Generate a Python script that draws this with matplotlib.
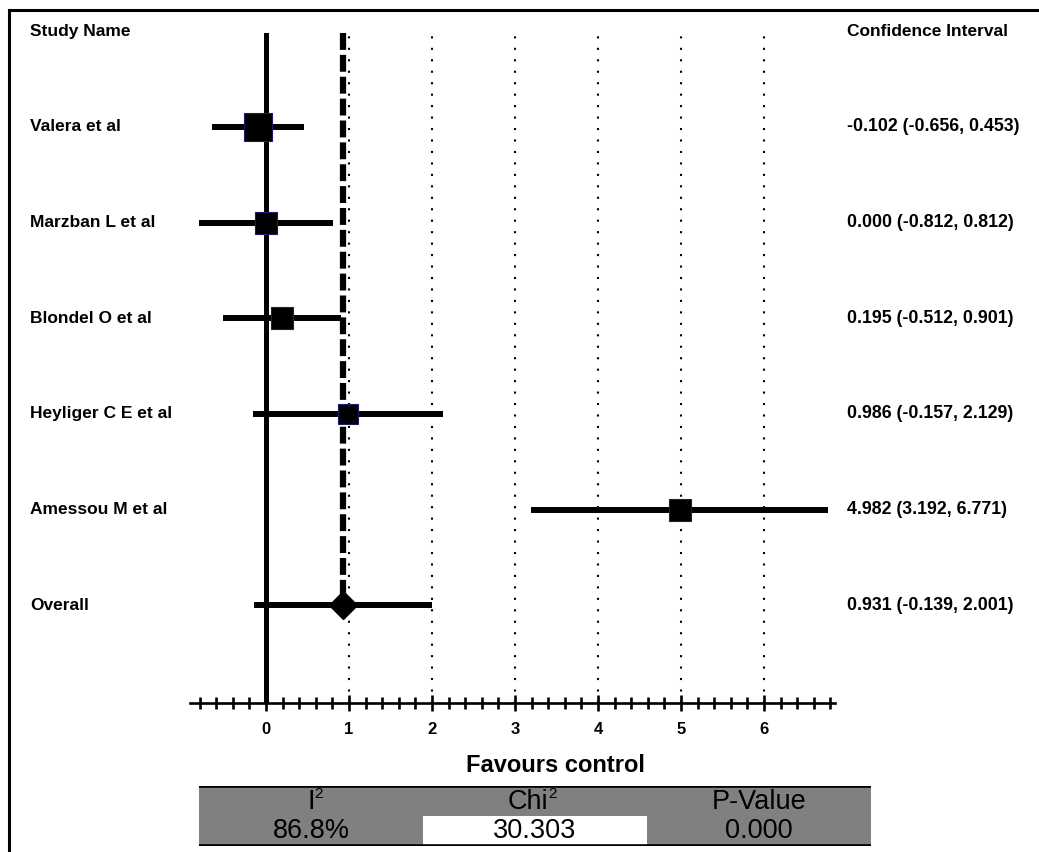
import numpy as np
import matplotlib
matplotlib.use("Agg")
import matplotlib.pyplot as plt
from matplotlib import transforms
from matplotlib.lines import Line2D
from matplotlib.patches import Rectangle
from matplotlib.ticker import FixedLocator

plt.rcParams['font.family'] = ['Liberation Sans', 'DejaVu Sans']

# study level results
studies = ["Valera et al", "Marzban L et al", "Blondel O et al",
           "Heyliger C E et al", "Amessou M et al"]
est = [-0.102, 0.000, 0.195, 0.986, 4.982]
lower = [-0.656, -0.812, -0.512, -0.157, 3.192]
upper = [0.453, 0.812, 0.901, 2.129, 6.771]
box_size = [20, 16, 16, 15, 15.5]

# pooled estimate
overall_est = 0.931
overall_lo = -0.139
overall_hi = 2.001

# heterogeneity stats
i2_text = "86.8%"
chi2 = 30.303
p_value = 0.000

W, H = 1039, 852
fig = plt.figure(figsize=(W / 100, H / 100), dpi=100)


def fx(x):
    return x / W


def fy(y):
    return 1 - y / H


# main forest axes
ax_l, ax_r, ax_t, ax_b = 189.6, 835.4, 33, 703
ax = fig.add_axes([fx(ax_l), fy(ax_b), fx(ax_r - ax_l), (ax_b - ax_t) / H])
ax.set_xlim(-0.92, 6.86)
ax.set_ylim(7.02, 0.02)
for s in ["top", "left", "right"]:
    ax.spines[s].set_visible(False)
ax.spines["bottom"].set_linewidth(1.9)
ax.set_yticks([])

ax.xaxis.set_major_locator(FixedLocator(range(0, 7)))
ax.xaxis.set_minor_locator(FixedLocator(np.round(np.arange(-0.8, 6.81, 0.2), 1)))
ax.tick_params(axis="x", which="major", direction="inout", length=12, width=1.9,
               pad=8, labelsize=12)
ax.tick_params(axis="x", which="minor", direction="inout", length=8, width=1.9)
for lab in ax.get_xticklabels():
    lab.set_fontweight("bold")

# dotted reference lines and the zero line
for xv in range(1, 7):
    ax.axvline(xv, color="black", lw=1.5, ls=(0, (1, 4.5)), zorder=1)
ax.axvline(0, color="black", lw=3.6, zorder=2)

rows = np.arange(1, len(studies) + 1)
overall_row = len(studies) + 1

# pooled estimate dashed line
ax.plot([overall_est, overall_est], [0.02, overall_row], color="black", lw=4.5,
        ls=(0, (2.7, 0.8)), dash_capstyle="butt", zorder=2)

# confidence intervals
ax.hlines(rows, lower, upper, color="black", lw=4.3, zorder=3)
ax.hlines(overall_row, overall_lo, overall_hi, color="black", lw=4.3, zorder=3)

for r, e, s in zip(rows, est, box_size):
    ax.plot(e, r, marker="s", ms=s, mfc="black", mec="#1a1a70", mew=0.8, zorder=4)
ax.plot(overall_est, overall_row, marker="D", ms=14, mfc="black", mec="black",
        zorder=4)

# left and right text columns
tr = transforms.blended_transform_factory(fig.transFigure, ax.transData)
lab_kw = dict(fontsize=12.5, fontweight="bold", va="center", transform=tr)
ci_kw = dict(lab_kw, fontsize=12.8)
ax.text(fx(30), 0.0, "Study Name", ha="left", clip_on=False, **lab_kw)
ax.text(fx(847), 0.0, "Confidence Interval", ha="left", clip_on=False, **lab_kw)
for r, name, e, lo, hi in zip(rows, studies, est, lower, upper):
    ax.text(fx(30), r, name, ha="left", **lab_kw)
    ax.text(fx(847), r, f"{e:.3f} ({lo:.3f}, {hi:.3f})", ha="left", **ci_kw)
ax.text(fx(30), overall_row, "Overall", ha="left", **lab_kw)
ax.text(fx(847), overall_row,
        f"{overall_est:.3f} ({overall_lo:.3f}, {overall_hi:.3f})", ha="left", **ci_kw)

fig.text(fx(555), fy(765), "Favours control", ha="center", va="center",
         fontsize=17, fontweight="bold")

# heterogeneity table
tb = fig.add_axes([fx(199), fy(846), fx(871 - 199), (846 - 786) / H])
tb.set_xlim(0, 3)
tb.set_ylim(0, 2)
tb.axis("off")
tb.add_patch(Rectangle((0, 0), 3, 2, facecolor="#808080", edgecolor="none"))
tb.add_patch(Rectangle((1, 0.02), 1, 0.98, facecolor="white", edgecolor="none"))
tb.plot([0, 3], [2, 2], color="black", lw=2.6, solid_capstyle="butt")
tb.plot([0, 3], [0, 0], color="black", lw=2.6, solid_capstyle="butt")

tkw = dict(fontsize=19.5, ha="center", va="center")
tb.text(0.5, 1.48, "I", **tkw)
tb.text(0.515, 1.74, "2", fontsize=11, ha="left", va="center")
tb.text(1.47, 1.48, "Chi", **tkw)
tb.text(1.56, 1.74, "2", fontsize=11, ha="left", va="center")
tb.text(2.5, 1.48, "P-Value", **tkw)
tb.text(0.5, 0.5, i2_text, **tkw)
tb.text(1.5, 0.5, f"{chi2:.3f}", **tkw)
tb.text(2.5, 0.5, f"{p_value:.3f}", **tkw)

# outer frame (top and left edges)
fig.add_artist(Line2D([fx(9), fx(1039)], [fy(10), fy(10)], color="black", lw=2.2))
fig.add_artist(Line2D([fx(9), fx(9)], [fy(10), fy(852)], color="black", lw=2.2))

fig.savefig("out.png", dpi=100, facecolor="white")
